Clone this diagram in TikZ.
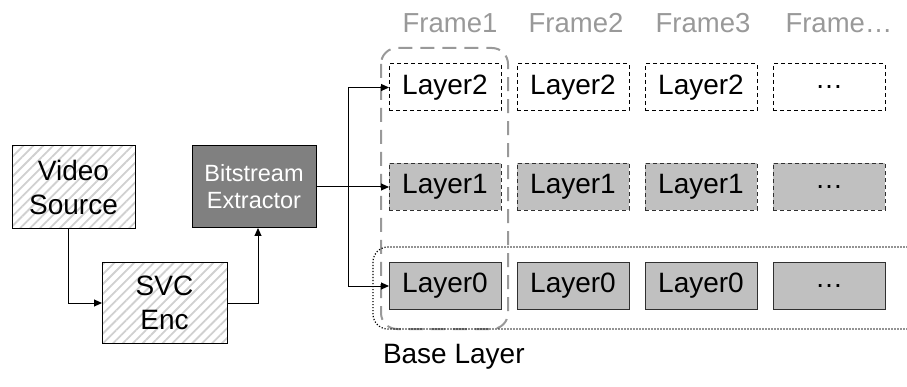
\documentclass[tikz,border=0pt]{standalone}
\usepackage{fontspec}
\setmainfont{Liberation Sans}
\usetikzlibrary{patterns.meta,arrows.meta}

\definecolor{layerfill}{HTML}{C0C0C0}
\definecolor{extfill}{HTML}{808080}
\definecolor{framegray}{HTML}{999999}
\definecolor{hatchgray}{HTML}{D0D0D0}
\definecolor{edgegray}{HTML}{303030}

\begin{document}
\begin{tikzpicture}[x=1pt,y=-1pt,
  every node/.style={inner sep=0pt, outer sep=0pt},
  big/.style={font=\fontsize{28}{34}\selectfont},
  arr/.style={-{Triangle[length=8pt,width=7pt]}, line width=1pt},
  hatched/.style={draw=black, line width=1pt, align=center, big,
    pattern={Lines[angle=45,distance=7pt,line width=1.8pt]}, pattern color=hatchgray},
  extractor/.style={draw=black, line width=1pt, fill=extfill, text=white, align=center,
    font=\fontsize{23.5}{27}\selectfont, minimum width=124pt, minimum height=82pt},
  layerbox/.style={line width=1pt, minimum width=112pt, minimum height=47pt, big},
  enh2/.style={layerbox, draw=black, dash pattern=on 4pt off 3pt},
  enh1/.style={layerbox, draw=edgegray, fill=layerfill, dash pattern=on 4pt off 3pt},
  base/.style={layerbox, draw=edgegray, fill=layerfill},
  framelabel/.style={anchor=base, text=framegray, font=\fontsize{27.5}{30}\selectfont}
]
\useasboundingbox (0,0) rectangle (907,387);

% encoder chain
\node[hatched, minimum width=123pt, minimum height=83pt] (vs) at (73.5,187.5) {Video\\Source};
\node[hatched, minimum width=125pt, minimum height=80pt] (svc) at (164.5,303) {SVC\\Enc};
\node[extractor] (bs) at (254,187) {Bitstream\\Extractor};

% frame headings
\foreach \x/\t in {450/Frame1, 576/Frame2, 703/Frame3, 839/Frame…}
  \node[framelabel] at (\x,33) {\t};

% layer grid
\foreach \x/\c/\t in {445/a/Layer2, 573/b/Layer2, 701/c/Layer2, 829/d/…}
  \node[enh2] (l2\c) at (\x,87.5) {\t};
\foreach \x/\c/\t in {445/a/Layer1, 573/b/Layer1, 701/c/Layer1, 829/d/…}
  \node[enh1] (l1\c) at (\x,187) {\t};
\foreach \x/\c/\t in {445/a/Layer0, 573/b/Layer0, 701/c/Layer0, 829/d/…}
  \node[base] (l0\c) at (\x,286) {\t};

% grouping outlines
\draw[framegray, line width=2pt, dash pattern=on 14pt off 8pt, rounded corners=16pt]
  (381,48) rectangle (508,329);
\begin{scope}
  \clip (0,0) rectangle (907,387);
  \draw[black, line width=1.2pt, dash pattern=on 1.2pt off 1.8pt, rounded corners=15pt]
    (373,247) rectangle (940,329);
\end{scope}
\node[anchor=base west, big] (baselabel) at (383,363) {Base Layer};

% connectors
\draw[arr] ([xshift=-5.5pt]vs.south) |- (svc.west);
\draw[arr] (svc.east) -| ([xshift=4pt]bs.south);
\coordinate (split) at (348,187);
\draw[line width=1pt] (bs.east) -- (split);
\draw[arr] (split) -- (l1a.west);
\draw[arr] (split) |- (l2a.west);
\draw[arr] (split) |- (l0a.west);
\end{tikzpicture}
\end{document}
